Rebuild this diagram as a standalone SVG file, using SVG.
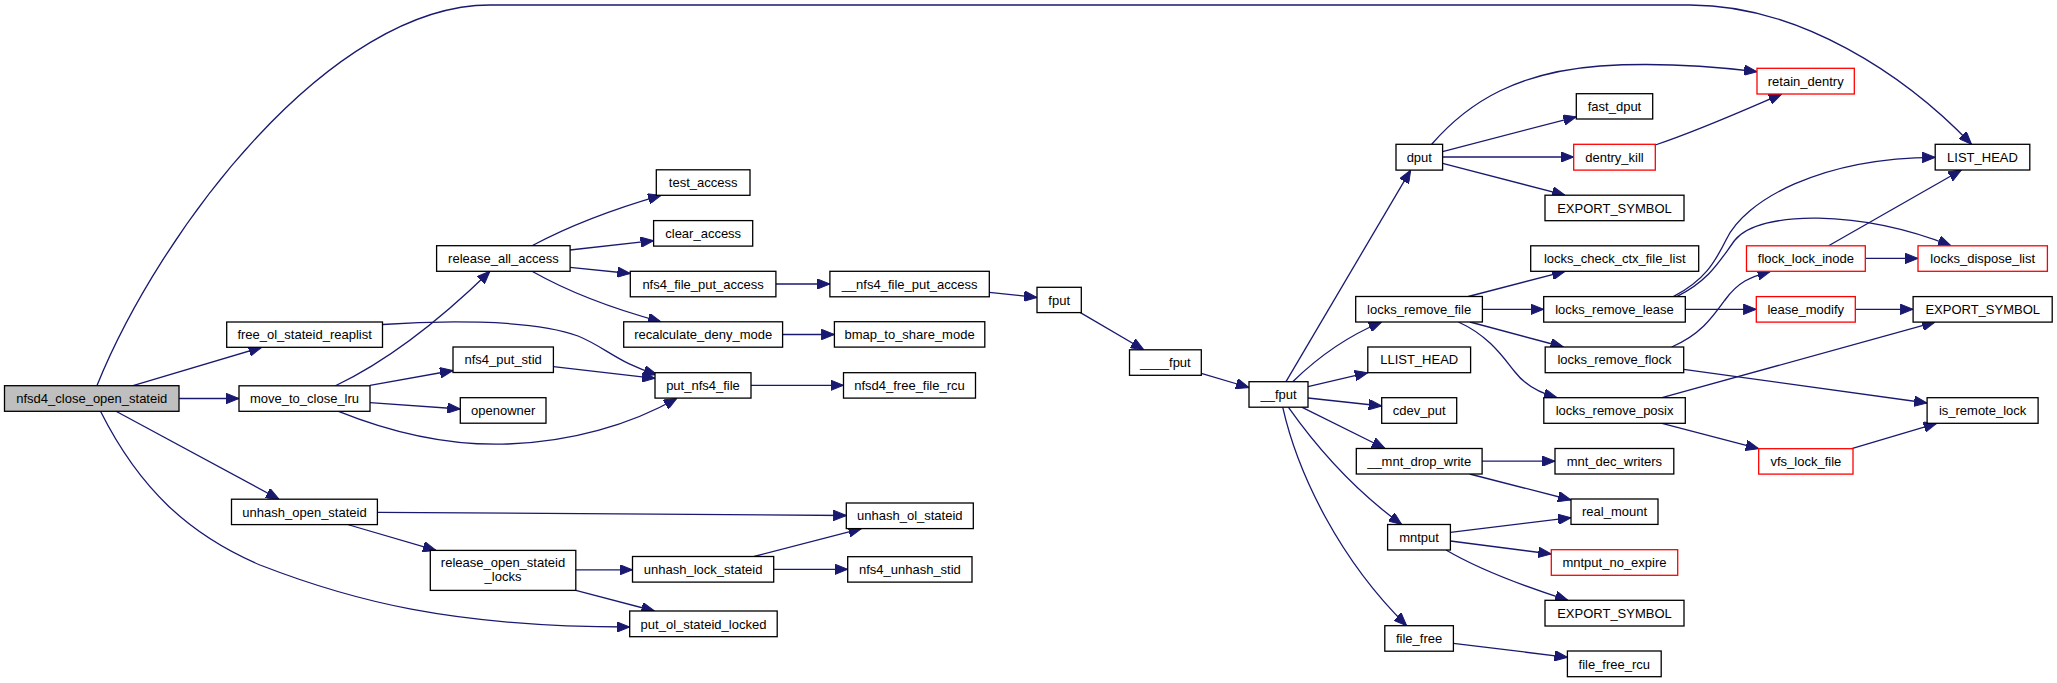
<svg xmlns="http://www.w3.org/2000/svg" width="2057" height="683" viewBox="0 0 2057 683">
<style>
.n rect{fill:#ffffff;stroke:#000000;stroke-width:1.3}
.n.red rect{stroke:#ff0000}
.n.root rect{fill:#bfbfbf}
.n text{font-family:"Liberation Sans",Arial,sans-serif;font-size:13px;text-anchor:middle;fill:#000000}
#edges path{fill:none;stroke:#191970;stroke-width:1.3;marker-end:url(#ah)}
</style>
<defs>
<marker id="ah" viewBox="0 0 13 10.5" markerUnits="userSpaceOnUse" markerWidth="13" markerHeight="10.5" refX="13" refY="5.25" orient="auto">
<path d="M0,0 L13,5.25 L0,10.5 z" fill="#191970" stroke="#191970" stroke-width="1"/>
</marker>
</defs>
<rect width="2057" height="683" fill="#ffffff"/>
<g id="edges">
<path d="M97,385.5 C160,230 330,5 490,5 L1690,5 C1800,5 1905,75 1971.5,144.3"/>
<path d="M133,385.7 L261.7,347.3"/>
<path d="M179,398.5 L239,398.5"/>
<path d="M116,411.3 L279,499.2"/>
<path d="M100.5,411.3 C140,490 190,535 260,565 C350,600 450,627 629.7,627"/>
<path d="M382.5,324.5 C430,321 530,318 578,336 C605,347 620,364 657,374.5"/>
<path d="M335,386 C390,360 440,320 490,271.3"/>
<path d="M370,385.3 L453,370.5"/>
<path d="M370,402.7 L460.3,409"/>
<path d="M338.5,411.3 C390,432 450,446 508,444 C570,442 630,425 677,398.2"/>
<path d="M532,245.7 C565,228 610,210 661,195.3"/>
<path d="M570,250 L653.6,240.7"/>
<path d="M570,267.3 L630.3,273.5"/>
<path d="M532,271.3 C565,290 610,308 661,321.8"/>
<path d="M553.4,366.7 L655,378.3"/>
<path d="M775.9,284 L829.9,284"/>
<path d="M989.3,292.3 L1037,297.5"/>
<path d="M782.6,334.5 L834.4,334.5"/>
<path d="M751,385.3 L843.5,385.3"/>
<path d="M377.4,512.3 L846.3,515.5"/>
<path d="M347.5,524.5 L436,550.4"/>
<path d="M575.8,569.8 L632.5,569.8"/>
<path d="M575.8,590.3 L654.5,611"/>
<path d="M754,556.5 L861.5,528.6"/>
<path d="M773.7,569.3 L847.7,569.3"/>
<path d="M1080.4,312.6 L1143.8,349.8"/>
<path d="M1201.3,373.3 L1249,387.5"/>
<path d="M1286,381.7 L1410.7,170.1"/>
<path d="M1292.7,381.7 C1315,360 1345,337 1381.7,322"/>
<path d="M1308,386.7 L1367.8,372.7"/>
<path d="M1308,398 L1381.7,406"/>
<path d="M1301.7,407.2 L1385,448.5"/>
<path d="M1288.3,407.2 C1315,445 1350,487 1401.7,524.5"/>
<path d="M1282.7,407.2 C1298,475 1340,560 1406.7,625.7"/>
<path d="M1431.7,144.3 C1470,100 1520,72 1600,66 C1660,62 1710,66 1757,71.7"/>
<path d="M1442.6,151.7 L1576.3,116.8"/>
<path d="M1442.6,157 L1573.7,157"/>
<path d="M1442.6,163.3 L1565,195.2"/>
<path d="M1655.3,145 C1700,130 1740,112 1781.7,94"/>
<path d="M1468.3,296.5 L1565,271.3"/>
<path d="M1482.4,309.3 L1543.7,309.3"/>
<path d="M1470,322 L1563.4,347"/>
<path d="M1458.3,322 C1490,336 1505,360 1515,372 C1525,385 1540,393 1557,397.7"/>
<path d="M1673.3,296.6 C1705,280 1715,262 1726,240 C1745,200 1820,158 1935.2,157.3"/>
<path d="M1676.7,296.6 C1710,280 1720,260 1735,240 C1760,210 1860,210 1951,245.8"/>
<path d="M1685.3,309.3 L1756.3,309.3"/>
<path d="M1671.7,347 C1700,335 1712,318 1725,300 C1738,282 1750,277 1770.5,271.3"/>
<path d="M1683.7,369.3 L1927.1,403"/>
<path d="M1662,397.7 L1935,322.1"/>
<path d="M1662,423.3 L1758.7,448.7"/>
<path d="M1828.6,245.8 L1961.4,170"/>
<path d="M1865.3,258.4 L1918,258.4"/>
<path d="M1855.3,309.3 L1913.1,309.3"/>
<path d="M1851.7,448.7 L1936.7,423.3"/>
<path d="M1482.1,461.2 L1555,461.2"/>
<path d="M1469.6,474 L1571,500"/>
<path d="M1450.4,532.3 L1571,517.7"/>
<path d="M1450.4,541 L1551.3,554"/>
<path d="M1446,550 C1480,570 1520,585 1568,600.3"/>
<path d="M1453.4,643.3 L1567.4,657.3"/>
</g>
<g id="n_nfsd4_close_open_stateid" class="n root"><rect x="4.5" y="385.7" width="174.5" height="25.6"/><text x="91.8" y="403.1">nfsd4_close_open_stateid</text></g>
<g id="n_free_ol_stateid_reaplist" class="n"><rect x="226.7" y="322" width="155.8" height="25.3"/><text x="304.6" y="339">free_ol_stateid_reaplist</text></g>
<g id="n_move_to_close_lru" class="n"><rect x="239" y="385.8" width="131" height="25.5"/><text x="304.5" y="403.1">move_to_close_lru</text></g>
<g id="n_unhash_open_stateid" class="n"><rect x="231.5" y="499.2" width="145.9" height="25.4"/><text x="304.5" y="516.5">unhash_open_stateid</text></g>
<g id="n_release_all_access" class="n"><rect x="436.6" y="245.7" width="133.5" height="25.6"/><text x="503.4" y="263.1">release_all_access</text></g>
<g id="n_nfs4_put_stid" class="n"><rect x="453" y="347" width="100.4" height="25.5"/><text x="503.2" y="364.3">nfs4_put_stid</text></g>
<g id="n_openowner" class="n"><rect x="460.3" y="397.7" width="85.7" height="25.5"/><text x="503.2" y="415">openowner</text></g>
<g id="n_release_open_stateid_locks" class="n"><rect x="430.3" y="550.4" width="145.5" height="40"/><text x="503" y="567.3">release_open_stateid</text><text x="503" y="581.4">_locks</text></g>
<g id="n_test_access" class="n"><rect x="656.3" y="169.8" width="93.7" height="25.5"/><text x="703.2" y="187.1">test_access</text></g>
<g id="n_clear_access" class="n"><rect x="653.6" y="220.6" width="99.1" height="25.5"/><text x="703.2" y="238">clear_access</text></g>
<g id="n_nfs4_file_put_access" class="n"><rect x="630.3" y="271.3" width="145.6" height="25.5"/><text x="703.1" y="288.6">nfs4_file_put_access</text></g>
<g id="n_recalculate_deny_mode" class="n"><rect x="623.7" y="321.8" width="158.9" height="25.4"/><text x="703.2" y="339.1">recalculate_deny_mode</text></g>
<g id="n_put_nfs4_file" class="n"><rect x="655" y="372.7" width="96" height="25.4"/><text x="703" y="390">put_nfs4_file</text></g>
<g id="n_unhash_lock_stateid" class="n"><rect x="632.5" y="556.5" width="141.2" height="25.6"/><text x="703.1" y="573.9">unhash_lock_stateid</text></g>
<g id="n_put_ol_stateid_locked" class="n"><rect x="629.7" y="611" width="147.5" height="25.7"/><text x="703.5" y="628.5">put_ol_stateid_locked</text></g>
<g id="n_unhash_ol_stateid" class="n"><rect x="846.3" y="503" width="127" height="25.6"/><text x="909.8" y="520.4">unhash_ol_stateid</text></g>
<g id="n_nfs4_unhash_stid" class="n"><rect x="847.7" y="556.7" width="124.3" height="25.4"/><text x="909.9" y="574">nfs4_unhash_stid</text></g>
<g id="n___nfs4_file_put_access" class="n"><rect x="829.9" y="271.3" width="159.4" height="25.5"/><text x="909.6" y="288.6">__nfs4_file_put_access</text></g>
<g id="n_bmap_to_share_mode" class="n"><rect x="834.4" y="321.7" width="150.4" height="25.4"/><text x="909.6" y="339">bmap_to_share_mode</text></g>
<g id="n_nfsd4_free_file_rcu" class="n"><rect x="843.5" y="372.7" width="132" height="25.4"/><text x="909.5" y="390">nfsd4_free_file_rcu</text></g>
<g id="n_fput" class="n"><rect x="1037" y="287.3" width="44.3" height="25.3"/><text x="1059.2" y="304.6">fput</text></g>
<g id="n_____fput" class="n"><rect x="1129.5" y="349.8" width="71.8" height="25.5"/><text x="1165.4" y="367.1">____fput</text></g>
<g id="n___fput" class="n"><rect x="1249" y="381.7" width="59" height="25.5"/><text x="1278.5" y="399">__fput</text></g>
<g id="n_dput" class="n"><rect x="1396" y="144.3" width="46.6" height="25.8"/><text x="1419.3" y="161.8">dput</text></g>
<g id="n_locks_remove_file" class="n"><rect x="1355.7" y="296.5" width="126.7" height="25.5"/><text x="1419.1" y="313.8">locks_remove_file</text></g>
<g id="n_LLIST_HEAD" class="n"><rect x="1367.8" y="347" width="102.8" height="25.7"/><text x="1419.2" y="364.4">LLIST_HEAD</text></g>
<g id="n_cdev_put" class="n"><rect x="1381.7" y="397.7" width="75" height="25.6"/><text x="1419.2" y="415.1">cdev_put</text></g>
<g id="n___mnt_drop_write" class="n"><rect x="1356.3" y="448.5" width="125.8" height="25.5"/><text x="1419.2" y="465.8">__mnt_drop_write</text></g>
<g id="n_mntput" class="n"><rect x="1387.6" y="524.5" width="62.8" height="25.5"/><text x="1419" y="541.8">mntput</text></g>
<g id="n_file_free" class="n"><rect x="1384.8" y="625.7" width="68.6" height="25.5"/><text x="1419.1" y="643">file_free</text></g>
<g id="n_fast_dput" class="n"><rect x="1576.3" y="93.7" width="76.4" height="25.3"/><text x="1614.5" y="111">fast_dput</text></g>
<g id="n_dentry_kill" class="n red"><rect x="1573.7" y="144.3" width="81.6" height="25.8"/><text x="1614.5" y="161.8">dentry_kill</text></g>
<g id="n_EXPORT_SYMBOL_1" class="n"><rect x="1545" y="195.2" width="139" height="25.5"/><text x="1614.5" y="212.5">EXPORT_SYMBOL</text></g>
<g id="n_locks_check_ctx_file_list" class="n"><rect x="1530.7" y="245.8" width="168" height="25.5"/><text x="1614.7" y="263.1">locks_check_ctx_file_list</text></g>
<g id="n_locks_remove_lease" class="n"><rect x="1543.7" y="296.6" width="141.6" height="25.5"/><text x="1614.5" y="313.9">locks_remove_lease</text></g>
<g id="n_locks_remove_flock" class="n"><rect x="1545.2" y="347" width="138.5" height="25.7"/><text x="1614.5" y="364.4">locks_remove_flock</text></g>
<g id="n_locks_remove_posix" class="n"><rect x="1543.8" y="397.7" width="141.5" height="25.6"/><text x="1614.6" y="415.1">locks_remove_posix</text></g>
<g id="n_mnt_dec_writers" class="n"><rect x="1555" y="448.5" width="118.8" height="25.5"/><text x="1614.4" y="465.8">mnt_dec_writers</text></g>
<g id="n_real_mount" class="n"><rect x="1571" y="499" width="87" height="25.4"/><text x="1614.5" y="516.3">real_mount</text></g>
<g id="n_mntput_no_expire" class="n red"><rect x="1551.3" y="549.7" width="126.4" height="25.6"/><text x="1614.5" y="567.1">mntput_no_expire</text></g>
<g id="n_EXPORT_SYMBOL_3" class="n"><rect x="1545" y="600.3" width="139" height="25.7"/><text x="1614.5" y="617.8">EXPORT_SYMBOL</text></g>
<g id="n_file_free_rcu" class="n"><rect x="1567.4" y="651" width="93.8" height="25.7"/><text x="1614.3" y="668.5">file_free_rcu</text></g>
<g id="n_retain_dentry" class="n red"><rect x="1757" y="68.3" width="97.3" height="25.7"/><text x="1805.7" y="85.8">retain_dentry</text></g>
<g id="n_flock_lock_inode" class="n red"><rect x="1746.5" y="245.8" width="118.8" height="25.5"/><text x="1805.9" y="263.1">flock_lock_inode</text></g>
<g id="n_lease_modify" class="n red"><rect x="1756.3" y="296.6" width="99" height="25.5"/><text x="1805.8" y="313.9">lease_modify</text></g>
<g id="n_vfs_lock_file" class="n red"><rect x="1758.7" y="448.7" width="94.3" height="25.4"/><text x="1805.9" y="466">vfs_lock_file</text></g>
<g id="n_LIST_HEAD" class="n"><rect x="1935.2" y="144.3" width="94.6" height="25.7"/><text x="1982.5" y="161.8">LIST_HEAD</text></g>
<g id="n_locks_dispose_list" class="n red"><rect x="1918" y="245.8" width="129.4" height="25.5"/><text x="1982.7" y="263.1">locks_dispose_list</text></g>
<g id="n_EXPORT_SYMBOL_2" class="n"><rect x="1913.1" y="296.6" width="139.1" height="25.5"/><text x="1982.7" y="313.9">EXPORT_SYMBOL</text></g>
<g id="n_is_remote_lock" class="n"><rect x="1927.1" y="397.7" width="111" height="25.6"/><text x="1982.6" y="415.1">is_remote_lock</text></g>
</svg>
